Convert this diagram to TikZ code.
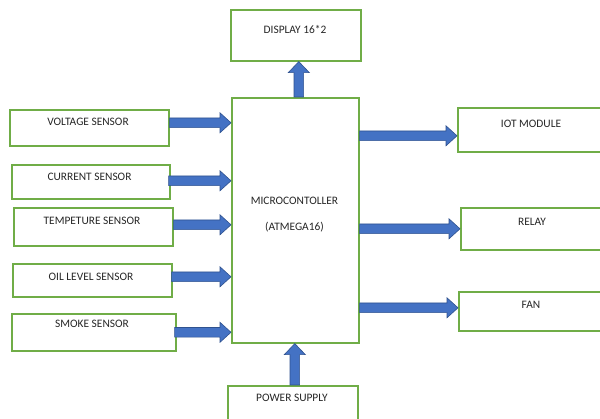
\documentclass[tikz,border=0pt]{standalone}
\usepackage{fontspec}
\setmainfont{Carlito}
\usetikzlibrary{calc}
\definecolor{boxgreen}{HTML}{70AD47}
\definecolor{arrfill}{HTML}{4472C4}
\definecolor{arrline}{HTML}{2F528F}
\tikzset{
  box/.style={draw=boxgreen, line width=1.6pt, rectangle, inner sep=0pt, anchor=north west},
  lbl/.style={inner sep=0pt, font=\fontsize{11.4}{13}\selectfont, text=black!85},
  rarrow/.style={fill=arrfill, draw=arrline, line width=0.6pt, line join=miter,
    to path={let \p1=(\tikztostart), \p2=(\tikztotarget) in
      (\x1,\y1-4.8pt) -- (\x2-11pt,\y1-4.8pt) -- (\x2-11pt,\y1-10pt) -- (\x2,\y1)
      -- (\x2-11pt,\y1+10pt) -- (\x2-11pt,\y1+4.8pt) -- (\x1,\y1+4.8pt) -- cycle}},
  uarrow/.style={fill=arrfill, draw=arrline, line width=0.6pt, line join=miter,
    to path={let \p1=(\tikztostart), \p2=(\tikztotarget) in
      (\x1-4.8pt,\y1) -- (\x1-4.8pt,\y2-11pt) -- (\x1-10.5pt,\y2-11pt) -- (\x1,\y2)
      -- (\x1+10.5pt,\y2-11pt) -- (\x1+4.8pt,\y2-11pt) -- (\x1+4.8pt,\y1) -- cycle}},
}
\begin{document}
\begin{tikzpicture}[x=1pt,y=-1pt]
\fill[white] (0,0) rectangle (600,419);
\useasboundingbox (0,0) rectangle (600,419);

% boxes
\node[box, minimum width=130pt, minimum height=51pt] (disp) at (230,9) {};
\node[box, minimum width=159pt, minimum height=36pt] (volt) at (9,109) {};
\node[box, minimum width=158pt, minimum height=34pt] (curr) at (11,164) {};
\node[box, minimum width=159pt, minimum height=38pt] (temp) at (13,207) {};
\node[box, minimum width=159pt, minimum height=33pt] (oil) at (12,263) {};
\node[box, minimum width=164pt, minimum height=37pt] (smoke) at (11,313) {};
\node[box, minimum width=127pt, minimum height=245pt] (micro) at (231,97) {};
\node[box, minimum width=150pt, minimum height=44pt] (iot) at (457,107) {};
\node[box, minimum width=150pt, minimum height=42pt] (relay) at (460,207) {};
\node[box, minimum width=150pt, minimum height=39pt] (fan) at (458,291) {};
\node[box, minimum width=130pt, minimum height=40pt] (power) at (227,385) {};

% labels
\node[lbl] (dispT) at (295,29) {DISPLAY 16*2};
\node[lbl] (voltT) at (88,122) {VOLTAGE SENSOR};
\node[lbl] (currT) at (89.5,177) {CURRENT SENSOR};
\node[lbl] (tempT) at (92,221) {TEMPETURE SENSOR};
\node[lbl] (oilT) at (91,277) {OIL LEVEL SENSOR};
\node[lbl] (smokeT) at (92,324) {SMOKE SENSOR};
\node[lbl] (microT1) at (294.5,201) {MICROCONTOLLER};
\node[lbl] (microT2) at (294.5,227) {(ATMEGA16)};
\node[lbl] (iotT) at (531,124) {IOT MODULE};
\node[lbl] (relayT) at (532,222) {RELAY};
\node[lbl] (fanT) at (531,305) {FAN};
\node[lbl] (powerT) at (292,398) {POWER SUPPLY};

% input arrows
\draw[rarrow] ([yshift=5pt]volt.east) to ([yshift=5pt]micro.west |- volt.east);
\draw[rarrow] ([xshift=-2pt,yshift=1pt]curr.east) to ([yshift=1pt]micro.west |- curr.east);
\draw[rarrow] ([yshift=2pt]temp.east) to ([yshift=2pt]micro.west |- temp.east);
\draw[rarrow] ([xshift=-1pt,yshift=3.5pt]oil.east) to ([yshift=3.5pt]micro.west |- oil.east);
\draw[rarrow] ([xshift=-2pt]smoke.east) to (micro.west |- smoke.east);

% output arrows
\draw[rarrow] ([yshift=-6pt]micro.east |- iot.west) to ([yshift=-6pt]iot.west);
\draw[rarrow] (micro.east |- relay.west) to (relay.west);
\draw[rarrow] ([yshift=3.5pt]micro.east |- fan.west) to ([yshift=3.5pt]fan.west);

% vertical arrows
\draw[uarrow] ([xshift=3pt]micro.north -| disp.south) to ([xshift=3pt]disp.south);
\draw[uarrow] ([xshift=2pt]power.north) to ([xshift=2pt]power.north |- micro.south);
\end{tikzpicture}
\end{document}
